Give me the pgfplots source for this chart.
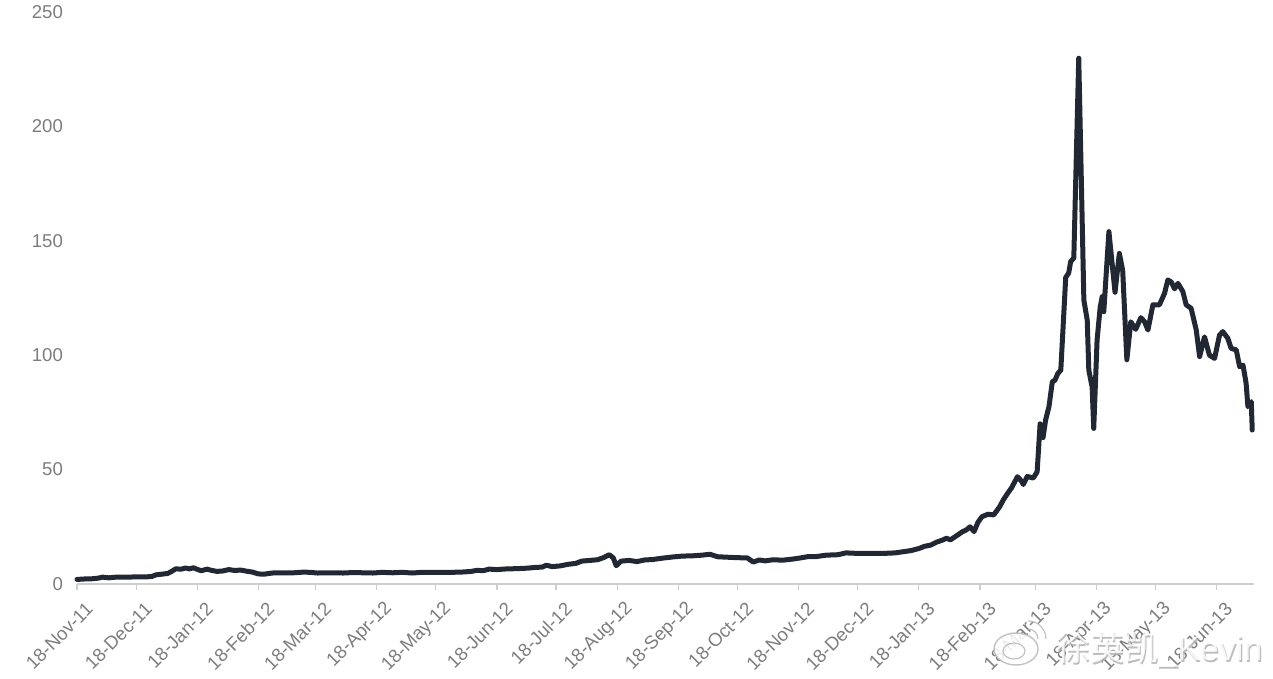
\documentclass[border=0pt]{standalone}
\usepackage{pgfplots}
\pgfplotsset{compat=1.18}
\usepackage{fontspec}
\setmainfont{Liberation Sans}
\newfontfamily\cjk{Noto Sans CJK SC}
\definecolor{lineblue}{RGB}{34,39,52}
\definecolor{ticktext}{RGB}{125,125,125}
\definecolor{axisgray}{RGB}{205,205,205}
\begin{document}
\begin{tikzpicture}
\useasboundingbox (0,0) rectangle (636.5pt,339.5pt);
\begin{axis}[
  at={(38.5pt,47.5pt)}, anchor=south west,
  scale only axis, width=588.5pt, height=286pt,
  xmin=0, xmax=597, ymin=0, ymax=250,
  axis x line=bottom, axis y line=left,
  x axis line style={-, draw=axisgray, line width=0.8pt},
  y axis line style={draw=none},
  ytick={0,50,100,150,200,250},
  ytick style={draw=none},
  xtick={0,30,61,92,121,152,182,213,243,274,305,335,366,396,427,458,486,517,547,578},
  xticklabels={18-Nov-11,18-Dec-11,18-Jan-12,18-Feb-12,18-Mar-12,18-Apr-12,18-May-12,18-Jun-12,18-Jul-12,18-Aug-12,18-Sep-12,18-Oct-12,18-Nov-12,18-Dec-12,18-Jan-13,18-Feb-13,18-Mar-13,18-Apr-13,18-May-13,18-Jun-13},
  xtick style={draw=axisgray, line width=0.6pt},
  tick align=outside, major tick length=3pt,
  /pgf/number format/assume math mode=true,
  tick label style={font=\fontsize{9.3}{10}\selectfont, text=ticktext},
  yticklabel style={anchor=east, xshift=-0.5pt},
  xticklabel style={rotate=45, anchor=east, inner sep=0pt, xshift=-1pt, yshift=-10pt},
  clip=false,
]
\addplot[lineblue, line width=2.5pt, line join=round, line cap=round] coordinates {
(0,2.0)(4,2.2)(8,2.3)(11,2.6)(13,3.0)(16,2.7)(20,3.0)(25,3.0)(30,3.1)(35,3.1)
(38,3.3)(40,4.0)(43,4.3)(46,4.6)(48,5.5)(50,6.6)(53,6.5)(55,7.0)(57,6.6)(59,7.1)
(61,6.4)(63,5.8)(66,6.5)(68,6.0)(71,5.5)(74,5.7)(77,6.3)(80,5.9)(83,6.1)(86,5.6)
(89,5.2)(92,4.4)(95,4.3)(99,4.8)(104,4.9)(110,4.9)(115,5.2)(118,5.1)(122,4.8)(128,4.9)
(135,4.8)(140,5.0)(145,4.9)(150,4.8)(155,5.1)(160,4.9)(165,5.1)(170,4.8)(175,5.1)(180,5.1)
(185,5.1)(190,5.1)(195,5.2)(200,5.5)(203,6.0)(206,5.8)(209,6.5)(213,6.3)(218,6.6)(223,6.7)
(228,6.9)(232,7.2)(236,7.4)(238,8.2)(241,7.6)(245,7.9)(249,8.6)(253,9.0)(256,10.0)(260,10.3)
(264,10.6)(267,11.5)(270,12.8)(272,11.4)(273.5,8.0)(276,10.0)(280,10.3)(284,9.8)(288,10.5)(292,10.7)
(297,11.3)(302,11.8)(307,12.2)(312,12.3)(317,12.6)(321,13.0)(325,11.9)(330,11.7)(335,11.5)(340,11.4)
(343,9.6)(346,10.5)(349,10.1)(353,10.6)(358,10.4)(363,10.9)(367,11.4)(371,12.0)(375,12.0)(380,12.6)
(386,12.8)(390,13.6)(395,13.4)(400,13.4)(405,13.4)(410,13.4)(415,13.6)(419,14.1)(423,14.6)(427,15.5)
(430,16.5)(433,17.0)(436,18.3)(439,19.2)(441,20.0)(443,19.3)(446,21.0)(449,22.8)(451,23.6)(453,25.0)
(455,22.9)(457,27.0)(459,29.4)(462,30.5)(465,30.2)(468,33.8)(470,37.0)(472,39.6)(474,42.0)(477,46.9)
(479,45.0)(480,43.5)(482,47.0)(485,46.3)(487,49.0)(488.5,70.0)(490,64.0)(491.3,71.7)(493,77.5)(494.7,88.4)
(496,89.0)(497.5,92.0)(499,93.5)(501.5,134.0)(503,135.9)(504,140.9)(505.6,142.5)(508.1,229.8)(510.7,124.0)(512.4,115.4)
(513.2,93.5)(514.9,86.0)(515.7,68.0)(517.4,106.6)(519,121.2)(520,125.6)(520.8,119.0)(523.4,154.0)(526.5,127.5)(528.7,144.5)
(530.4,137.0)(532.5,98.0)(534.5,114.6)(537,111.3)(539.6,116.4)(541.5,114.6)(543.2,111.0)(545.7,122.0)(549,122.0)(551.6,127.0)
(553.3,132.9)(555,132.0)(556.7,129.0)(558.4,131.4)(560.9,127.8)(562.6,122.0)(565.1,120.5)(567.7,111.0)(569.4,99.4)(571.9,108.0)
(574.4,100.0)(577,98.6)(579.5,108.8)(581.2,110.3)(583.7,107.4)(585.4,103.0)(588,102.3)(589.7,95.0)(591.4,95.7)(593,87.7)
(593.9,77.5)(595.6,79.7)(596.1,67.3)
};
\end{axis}
% watermark
\begin{scope}[opacity=0.85]
\draw[gray!55, line width=0.7pt, fill=white] (508pt,15pt) ellipse (11pt and 8pt);
\draw[gray!55, line width=0.6pt] (507pt,14pt) ellipse (5.5pt and 4pt);
\draw[gray!55, line width=0.6pt] (514pt,25pt) arc (90:0:5pt);
\draw[gray!55, line width=0.6pt] (514pt,29pt) arc (90:0:9pt);
\node[anchor=base west, inner sep=0pt, text=gray!60, font=\fontsize{17}{18}\selectfont] at (528.6pt,8.4pt) {{\cjk 徐英凯}\_Kevin};
\node[anchor=base west, inner sep=0pt, text=white, font=\fontsize{17}{18}\selectfont] at (528pt,9pt) {{\cjk 徐英凯}\_Kevin};
\end{scope}
\end{tikzpicture}
\end{document}
